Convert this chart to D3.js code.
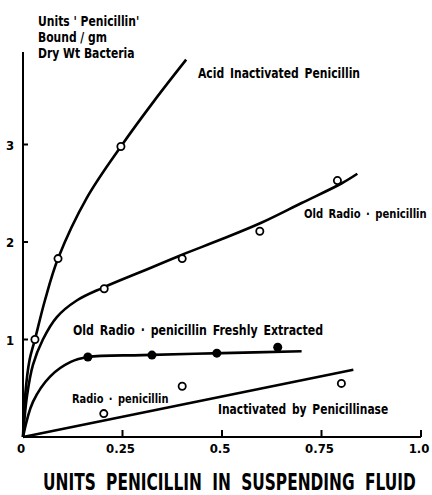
<!DOCTYPE html>
<html>
<head>
<meta charset="utf-8">
<script src="https://cdn.jsdelivr.net/npm/d3@7"></script>
<style>
  body { margin: 0; background: #fff; }
  text { font-family: "DejaVu Sans Condensed", "Liberation Sans Narrow", sans-serif; font-weight: bold; fill: #000; }
</style>
</head>
<body>
<svg id="chart" width="432" height="495"></svg>
<script>
// x tick values and labels
var xTicks = [0, 0.25, 0.5, 0.75, 1.0];
var xTickLabels = ["0", "0.25", "0.5", "0.75", "1.0"];
var yTicks = [1, 2, 3];

// observed points (x = units penicillin in fluid, y = units bound / gm)
var acidPoints = [[0.03, 1.0], [0.088, 1.83], [0.246, 2.98]];
var oldPoints = [[0.204, 1.52], [0.40, 1.83], [0.595, 2.11], [0.79, 2.63]];
var freshPoints = [[0.163, 0.82], [0.324, 0.84], [0.487, 0.86], [0.64, 0.92]];
var inactPoints = [[0.203, 0.24], [0.40, 0.52], [0.80, 0.55]];

// hand-drawn fitted curves
var acidCurve = [[0, 0], [0.006, 0.45], [0.016, 0.78], [0.03, 1.0], [0.055, 1.4], [0.088, 1.83],
  [0.16, 2.45], [0.246, 2.98], [0.33, 3.45], [0.41, 3.87]];
var oldCurve = [[0, 0], [0.01, 0.42], [0.025, 0.74], [0.05, 1.0], [0.085, 1.23], [0.135, 1.4],
  [0.2, 1.53], [0.3, 1.7], [0.4, 1.87], [0.5, 2.03], [0.6, 2.2], [0.7, 2.4], [0.8, 2.6], [0.84, 2.7]];
var freshCurve = [[0, 0], [0.025, 0.36], [0.068, 0.62], [0.12, 0.77], [0.163, 0.82],
  [0.3, 0.84], [0.5, 0.86], [0.7, 0.88]];
var inactCurve = [[0, 0], [0.83, 0.69]];

var x = d3.scaleLinear().domain([0, 1]).range([23, 421]);
var y = d3.scaleLinear().domain([0, 4]).range([437, 47]);

var svg = d3.select("#chart");

/* Shrinks a text's font size until its natural width matches w, then
 * stretches it vertically a little to get the tall condensed look */
function fitText(sel, x0, y0, w, size, stretch) {
  sel.attr("x", 0).attr("y", 0).style("font-size", size + "px");
  var len = sel.node().getComputedTextLength();
  var fs = Math.min(size, size * w / len);
  sel.style("font-size", fs + "px")
    .attr("transform", "translate(" + x0 + "," + y0 + ") scale(1," + stretch + ")");
}

// axes
svg.append("line")
  .attr("x1", x(0)).attr("x2", x(1))
  .attr("y1", y(0)).attr("y2", y(0))
  .attr("stroke", "#000").attr("stroke-width", 2);
svg.append("line")
  .attr("x1", x(0)).attr("x2", x(0))
  .attr("y1", y(0)).attr("y2", y(3.95))
  .attr("stroke", "#000").attr("stroke-width", 2);

svg.selectAll(".xtick")
  .data(xTicks.slice(1))
  .enter().append("line")
    .attr("x1", (d) => x(d)).attr("x2", (d) => x(d))
    .attr("y1", y(0)).attr("y2", y(0) - 7)
    .attr("stroke", "#000").attr("stroke-width", 2);
svg.selectAll(".ytick")
  .data(yTicks)
  .enter().append("line")
    .attr("x1", x(0)).attr("x2", x(0) + 5)
    .attr("y1", (d) => y(d)).attr("y2", (d) => y(d))
    .attr("stroke", "#000").attr("stroke-width", 2);

svg.selectAll(".xlabel")
  .data(xTicks)
  .enter().append("text")
    .attr("x", (d) => x(d) - 2)
    .attr("y", y(0) + 16)
    .attr("text-anchor", "middle")
    .style("font-size", "13px")
    .text((d, i) => xTickLabels[i]);
svg.selectAll(".ylabel")
  .data(yTicks)
  .enter().append("text")
    .attr("x", 10)
    .attr("y", (d) => y(d) + 5)
    .attr("text-anchor", "middle")
    .style("font-size", "13px")
    .text((d) => d);

// axis titles
var xTitle = svg.append("text")
  .style("word-spacing", "5px")
  .text("UNITS PENICILLIN IN SUSPENDING FLUID");
fitText(xTitle, 43, 490, 370, 20, 1.3);

var yTitle = ["Units ' Penicillin'", "Bound / gm", "Dry Wt Bacteria"];
var yTitleWidths = [102, 69, 108];
svg.selectAll(".ytitle")
  .data(yTitle)
  .enter().append("text")
    .text((d) => d)
    .each(function (d, i) {
      fitText(d3.select(this), 38, 26 + i * 16, yTitleWidths[i], 12, 1.15);
    });

// curves
var line = d3.line()
  .x((d) => x(d[0]))
  .y((d) => y(d[1]))
  .curve(d3.curveCatmullRom.alpha(0.5));
[acidCurve, oldCurve, freshCurve, inactCurve].forEach(function (c) {
  svg.append("path")
    .attr("d", line(c))
    .attr("fill", "none")
    .attr("stroke", "#000")
    .attr("stroke-width", 2.6);
});

// points
function openPoints(pts) {
  svg.append("g").selectAll("circle")
    .data(pts)
    .enter().append("circle")
      .attr("cx", (d) => x(d[0]))
      .attr("cy", (d) => y(d[1]))
      .attr("r", 3.6)
      .attr("fill", "#fff")
      .attr("stroke", "#000")
      .attr("stroke-width", 1.8);
}
openPoints(acidPoints);
openPoints(oldPoints);
openPoints(inactPoints);
svg.append("g").selectAll("circle")
  .data(freshPoints)
  .enter().append("circle")
    .attr("cx", (d) => x(d[0]))
    .attr("cy", (d) => y(d[1]))
    .attr("r", 4.5)
    .attr("fill", "#000");

// curve labels
var labels = [
  {text: "Acid Inactivated Penicillin", x: 198, y: 78, w: 162},
  {text: "Old Radio \u00b7 penicillin", x: 304, y: 218, w: 122},
  {text: "Old Radio \u00b7 penicillin Freshly Extracted", x: 73, y: 335, w: 250},
  {text: "Radio \u00b7 penicillin", x: 72, y: 403, w: 96},
  {text: "Inactivated by Penicillinase", x: 218, y: 414, w: 170}
];
svg.selectAll(".clabel")
  .data(labels)
  .enter().append("text")
    .style("word-spacing", "2px")
    .text((d) => d.text)
    .each(function (d) {
      fitText(d3.select(this), d.x, d.y, d.w, 13, 1.15);
    });
</script>
</body>
</html>
